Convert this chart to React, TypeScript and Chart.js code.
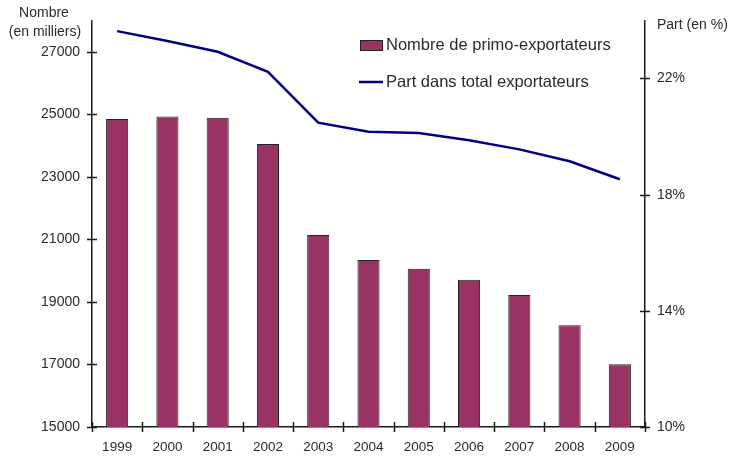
import React, { useEffect, useRef } from "react";
import { Chart, registerables } from "chart.js";

Chart.register(...registerables);

const years = ["1999", "2000", "2001", "2002", "2003", "2004", "2005", "2006", "2007", "2008", "2009"];
const primoExportateurs = [24850, 24930, 24890, 24050, 21140, 20340, 20060, 19710, 19220, 18250, 17010];
const partTotal = [23.63, 23.29, 22.92, 22.23, 20.48, 20.17, 20.12, 19.87, 19.56, 19.15, 18.53];
const leftTicks = [15000, 17000, 19000, 21000, 23000, 25000, 27000];
const rightTicks = [10, 14, 18, 22];
const leftTitle = ["Nombre", "(en milliers)"];
const rightTitle = "Part (en %)";
const barLabel = "Nombre de primo-exportateurs";
const lineLabel = "Part dans total exportateurs";

const FONT = "'Liberation Sans', Arial, sans-serif";
const TXT = "#2a2a2a";
const AXIS = "#1a1a1a";
const BAR = "#993366";
const LINE = "#000080";

const decorPlugin = {
  id: "decor",
  afterDraw(chart: any) {
    const ctx = chart.ctx;
    const { y, y1 } = chart.scales;
    const area = chart.chartArea;
    ctx.save();
    ctx.strokeStyle = AXIS;
    ctx.lineWidth = 1.5;
    leftTicks.forEach((v) => {
      const py = Math.round(y.getPixelForValue(v)) + 0.5;
      ctx.beginPath();
      ctx.moveTo(area.left - 5, py);
      ctx.lineTo(area.left + 5, py);
      ctx.stroke();
    });
    rightTicks.forEach((v) => {
      const py = Math.round(y1.getPixelForValue(v)) + 0.5;
      ctx.beginPath();
      ctx.moveTo(area.right - 5, py);
      ctx.lineTo(area.right + 5, py);
      ctx.stroke();
    });
    const n = years.length;
    const step = (area.right - area.left) / n;
    for (let i = 0; i <= n; i++) {
      const px = Math.round(area.left + i * step) + 0.5;
      ctx.beginPath();
      ctx.moveTo(px, area.bottom - 5);
      ctx.lineTo(px, area.bottom + 5);
      ctx.stroke();
    }
    ctx.fillStyle = TXT;
    ctx.font = `14px ${FONT}`;
    ctx.textAlign = "center";
    ctx.textBaseline = "middle";
    ctx.fillText(leftTitle[0], 44, 13);
    ctx.fillText(leftTitle[1], 45, 32);
    ctx.textAlign = "left";
    ctx.fillText(rightTitle, 657, 25);
    // legend
    ctx.fillStyle = BAR;
    ctx.fillRect(360, 40, 22, 10);
    ctx.strokeStyle = "#222";
    ctx.lineWidth = 1;
    ctx.strokeRect(360.5, 40.5, 22, 10);
    ctx.strokeStyle = LINE;
    ctx.lineWidth = 2.5;
    ctx.beginPath();
    ctx.moveTo(359, 82);
    ctx.lineTo(383, 82);
    ctx.stroke();
    ctx.fillStyle = TXT;
    ctx.font = `16.5px ${FONT}`;
    ctx.fillText(barLabel, 386, 45);
    ctx.fillText(lineLabel, 386, 82);
    ctx.restore();
  },
};

export default function App() {
  const ref = useRef<HTMLCanvasElement>(null);
  useEffect(() => {
    document.body.style.margin = "0";
    const canvas = ref.current!;
    const chart = new Chart(canvas, {
      type: "bar",
      data: {
        labels: years,
        datasets: [
          {
            type: "line",
            label: lineLabel,
            data: partTotal,
            yAxisID: "y1",
            borderColor: LINE,
            borderWidth: 2.5,
            pointRadius: 0,
            tension: 0,
            fill: false,
            order: 0,
          } as any,
          {
            type: "bar",
            label: barLabel,
            data: primoExportateurs,
            yAxisID: "y",
            backgroundColor: BAR,
            borderColor: "#222",
            borderWidth: 1,
            borderSkipped: false,
            barPercentage: 0.44,
            categoryPercentage: 1,
            order: 1,
          },
        ],
      },
      options: {
        responsive: false,
        animation: false,
        devicePixelRatio: 1,
        layout: { padding: { top: 19, left: 0, right: 0, bottom: 0 } },
        plugins: { legend: { display: false }, tooltip: { enabled: false } },
        scales: {
          x: {
            type: "category",
            offset: true,
            grid: { display: false, drawTicks: false },
            border: { display: true, color: AXIS, width: 1.5 },
            ticks: { color: TXT, font: { family: FONT, size: 13.5 }, padding: 12, maxRotation: 0 },
            afterFit(scale: any) {
              scale.height = 31;
            },
          },
          y: {
            position: "left",
            min: 15000,
            max: 28000,
            grid: { display: false, drawTicks: false },
            border: { display: true, color: AXIS, width: 1.5 },
            ticks: {
              color: TXT,
              font: { family: FONT, size: 14 },
              padding: 12,
              callback: (v: any) => String(v),
            },
            afterBuildTicks(scale: any) {
              scale.ticks = leftTicks.map((v) => ({ value: v }));
            },
            afterFit(scale: any) {
              scale.width = 92;
            },
          },
          y1: {
            position: "right",
            min: 10,
            max: 24,
            grid: { display: false, drawTicks: false },
            border: { display: true, color: AXIS, width: 1.5 },
            ticks: {
              color: TXT,
              font: { family: FONT, size: 14 },
              padding: 12,
              callback: (v: any) => `${v}%`,
            },
            afterBuildTicks(scale: any) {
              scale.ticks = rightTicks.map((v) => ({ value: v }));
            },
            afterFit(scale: any) {
              scale.width = 90;
            },
          },
        },
      },
      plugins: [decorPlugin],
    });
    return () => chart.destroy();
  }, []);
  return (
    <div style={{ position: "absolute", left: 0, top: 0, width: 735, height: 458, background: "#fff" }}>
      <canvas ref={ref} width={735} height={458} style={{ width: 735, height: 458 }} />
    </div>
  );
}
